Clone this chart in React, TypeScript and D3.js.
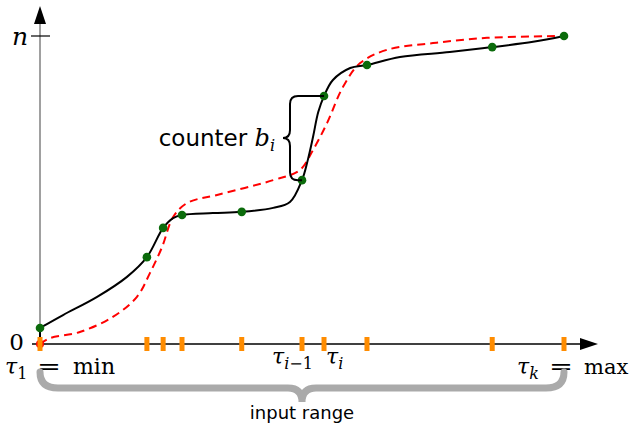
import * as d3 from 'd3';

// sampled positions of the quantile boundaries (input axis, 0..100)
const tauValues = [0, 20.4, 23.5, 27.1, 38.5, 50, 54.2, 62.4, 86.3, 100];
// cumulative counts at each boundary (0..n, n = 100)
const countValues = [5.2, 28.2, 37.7, 41.9, 42.9, 53.2, 80.5, 90.6, 96.4, 100];

// black interpolating curve
const curveX = [0, 4.4, 10.9, 16.6, 20.4, 23.5, 25.4, 27.1, 33.0, 38.5, 44.5, 47.7, 50, 51.1, 52.1, 53.1, 54.2, 55.9, 59.2, 62.4, 68.7, 78.2, 86.3, 94.1, 100];
const curveY = [5.2, 9.4, 15.3, 21.8, 28.2, 37.7, 40.9, 41.9, 42.5, 42.9, 44.2, 46.1, 53.2, 59.7, 67.2, 75.3, 80.5, 85.7, 89.6, 90.6, 93.2, 94.8, 96.4, 98.1, 100];

// red dashed reference distribution
const refX = [0, 1.9, 7.6, 13.9, 18.5, 21.0, 23.3, 25.4, 28.1, 33.8, 44.5, 49.6, 52.1, 54.8, 57.8, 61.1, 66.2, 75.0, 85.3, 100];
const refY = [0, 1.9, 3.9, 8.8, 15.3, 23.1, 31.5, 41.2, 45.8, 48.4, 53.2, 56.5, 63.0, 71.8, 83.4, 91.2, 95.5, 97.7, 99.4, 100];

const W = 632;
const H = 428;
const serif = '"DejaVu Serif", "Liberation Serif", serif';
const sans = '"DejaVu Sans", "Open Sans", sans-serif';

export default function App() {
  const x = d3.scaleLinear().domain([0, 100]).range([40, 564]);
  const y = d3.scaleLinear().domain([0, 100]).range([344, 36]);

  const line = d3.line<[number, number]>()
    .x(d => x(d[0]))
    .y(d => y(d[1]))
    .curve(d3.curveCatmullRom.alpha(0.5));

  const curvePts = curveX.map((v, i) => [v, curveY[i]] as [number, number]);
  const refPts = refX.map((v, i) => [v, refY[i]] as [number, number]);

  const x0 = x(0);
  const y0 = y(0);
  const yTop = y(100);
  const xMax = x(100);

  // counter brace between tau_{i-1} and tau_i
  const i = 6;
  const bTop = y(countValues[i]);
  const bBot = y(countValues[i - 1]);
  const bMid = (bTop + bBot) / 2;
  const bx = x(tauValues[i - 1]) - 12;
  const r = 8;
  const counterBrace =
    `M${x(tauValues[i])},${bTop} L${bx + r},${bTop} Q${bx},${bTop} ${bx},${bTop + r} ` +
    `L${bx},${bMid - r} Q${bx},${bMid} ${bx - 7},${bMid} Q${bx},${bMid} ${bx},${bMid + r} ` +
    `L${bx},${bBot - r} Q${bx},${bBot} ${bx + r},${bBot} L${x(tauValues[i - 1])},${bBot}`;

  // input range brace
  const gx1 = x0;
  const gx2 = xMax;
  const gm = (gx1 + gx2) / 2;
  const gy = 372;
  const gl = 388;
  const gt = 402;
  const rangeBrace =
    `M${gx1},${gy} Q${gx1},${gl} ${gx1 + 18},${gl} L${gm - 14},${gl} Q${gm},${gl} ${gm},${gt} ` +
    `Q${gm},${gl} ${gm + 14},${gl} L${gx2 - 18},${gl} Q${gx2},${gl} ${gx2},${gy}`;

  return (
    <svg width={W} height={H} style={{ position: 'absolute', left: 0, top: 0, background: '#fff' }}>
      {/* y axis */}
      <line x1={x0} x2={x0} y1={y0} y2={20} stroke="#808080" strokeWidth={1.5} />
      <path d={`M${x0},6 L${x0 - 6},24 L${x0 + 6},24 Z`} fill="#000" />
      <line x1={x0 - 9} x2={x0 + 10} y1={yTop} y2={yTop} stroke="#000" strokeWidth={1.2} />
      {/* x axis */}
      <line x1={32} x2={584} y1={y0} y2={y0} stroke="#000" strokeWidth={1.3} />
      <path d={`M598,${y0} L580,${y0 - 6} L580,${y0 + 6} Z`} fill="#000" />

      {/* reference distribution */}
      <circle cx={x0} cy={y0} r={4} fill="#ff0000" />
      <path d={line(refPts) || ''} fill="none" stroke="#ff0000" strokeWidth={2} strokeDasharray="8 5" />

      {/* interpolated quantile curve */}
      <line x1={x0} x2={x0} y1={y0} y2={y(countValues[0])} stroke="#000" strokeWidth={2} />
      <path d={line(curvePts) || ''} fill="none" stroke="#000" strokeWidth={2} />

      {tauValues.map((t, k) => (
        <circle key={'p' + k} cx={x(t)} cy={y(countValues[k])} r={4.3} fill="#0b6b0b" />
      ))}
      {tauValues.map((t, k) => (
        <rect key={'t' + k} x={x(t) - 2.5} y={y0 - 7} width={5} height={14} fill="#ff8c00" />
      ))}

      {/* counter brace */}
      <path d={counterBrace} fill="none" stroke="#000" strokeWidth={2} />
      <text x={bx - 15} y={146} fontFamily={sans} fontSize={23} textAnchor="end" fill="#000">
        counter <tspan fontFamily={serif} fontStyle="italic" fontSize={24}>b</tspan>
        <tspan fontFamily={serif} fontStyle="italic" fontSize={16} dy={5}>i</tspan>
      </text>

      {/* axis labels */}
      <text x={28} y={45} fontFamily={serif} fontStyle="italic" fontSize={25} textAnchor="end">n</text>
      <text x={24} y={350} fontFamily={serif} fontSize={23} textAnchor="end">0</text>

      <text x={x0 - 35} y={374} fontFamily={serif} fontSize={22}>
        <tspan fontStyle="italic">τ</tspan>
        <tspan fontSize={16} dy={5}>1</tspan>
      </text>
      <text x={x0 - 3} y={374} fontFamily={serif} fontSize={22} textLength={24} lengthAdjust="spacingAndGlyphs">=</text>
      <text x={x0 + 33} y={374} fontFamily={serif} fontSize={22}>min</text>

      <text x={x(tauValues[5]) - 30} y={364} fontFamily={serif} fontSize={22}>
        <tspan fontStyle="italic">τ</tspan>
        <tspan fontSize={16} dy={5} fontStyle="italic">i</tspan>
        <tspan fontSize={16}>−1</tspan>
      </text>
      <text x={x(tauValues[6]) + 2} y={364} fontFamily={serif} fontSize={22}>
        <tspan fontStyle="italic">τ</tspan>
        <tspan fontSize={16} dy={5} fontStyle="italic">i</tspan>
      </text>

      <text x={xMax - 47} y={374} fontFamily={serif} fontSize={22}>
        <tspan fontStyle="italic">τ</tspan>
        <tspan fontSize={16} dy={5} fontStyle="italic">k</tspan>
      </text>
      <text x={xMax - 15} y={374} fontFamily={serif} fontSize={22} textLength={24} lengthAdjust="spacingAndGlyphs">=</text>
      <text x={xMax + 20} y={374} fontFamily={serif} fontSize={21}>max</text>

      {/* input range brace */}
      <path d={rangeBrace} fill="none" stroke="#aaaaaa" strokeWidth={7} strokeLinecap="round" />
      <text x={gm} y={419} fontFamily={sans} fontSize={18} textAnchor="middle" fill="#000">input range</text>
    </svg>
  );
}
